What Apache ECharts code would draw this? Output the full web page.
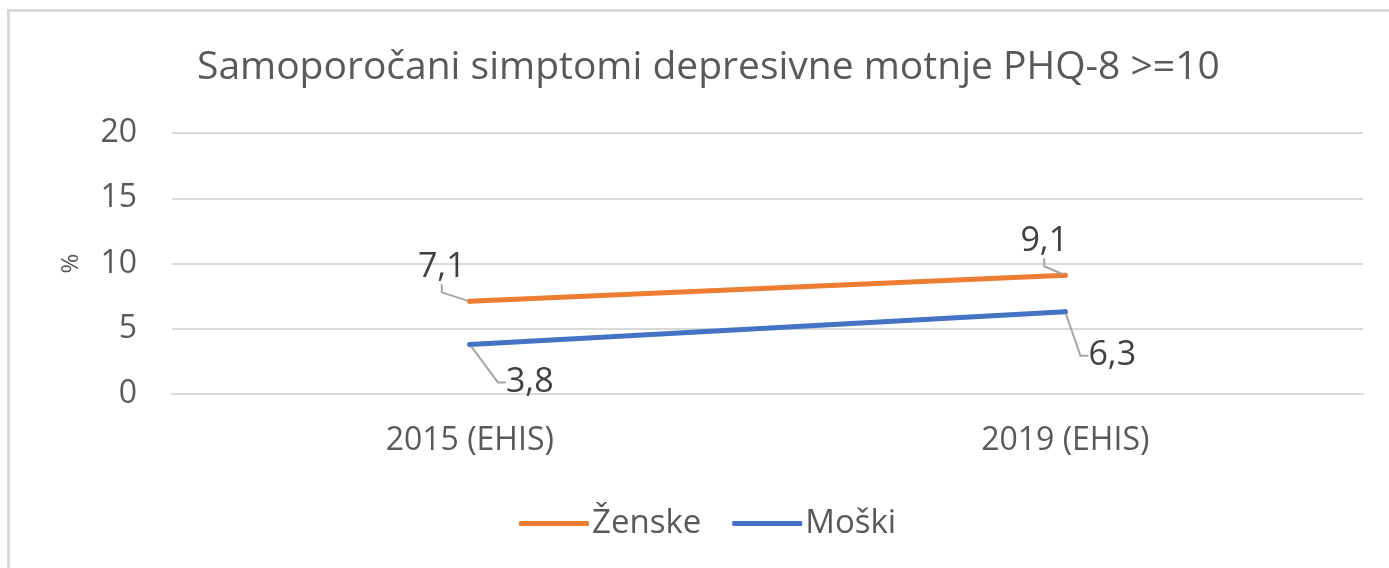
<!DOCTYPE html>
<html>
<head>
<meta charset="UTF-8">
<title>PHQ-8</title>
<script src="https://cdn.jsdelivr.net/npm/echarts@6/dist/echarts.min.js"></script>
<style>
  html, body { margin: 0; padding: 0; background: #fff; }
  #frame { position: absolute; left: 7px; top: 9px; width: 1400px; height: 580px;
           border-top: 3px solid #d9d9d9; border-left: 3px solid #d9d9d9; }
  #main { position: absolute; left: 0; top: 0; width: 1389px; height: 568px; }
</style>
</head>
<body>
<div id="frame"></div>
<div id="main"></div>
<script>
// data
var categories = ['2015 (EHIS)', '2019 (EHIS)'];
var zenske = [7.1, 9.1];
var moski = [3.8, 6.3];
var yTicks = [0, 5, 10, 15, 20];

// label offsets from point (per series, per category)
var labelShift = [
    [[-28, -34], [-21, -34]],
    [[60, 38], [47, 44]]
];

var txt = '#595959';
var font = 'Open Sans';
var chart = echarts.init(document.getElementById('main'));

function makeSeries(name, data, color) {
    return {
        name: name,
        type: 'line',
        data: data,
        symbol: 'circle',
        symbolSize: 5,
        showSymbol: true,
        itemStyle: { color: color },
        lineStyle: { color: color, width: 5, cap: 'round' },
        label: {
            show: true,
            position: 'inside',
            color: '#404040',
            fontSize: 34,
            fontFamily: font,
            formatter: function (p) { return String(p.value).replace('.', ','); }
        },
        labelLine: { show: true, length2: 8, lineStyle: { color: '#a6a6a6', width: 2 } },
        emphasis: { disabled: true },
        animation: false
    };
}

chart.setOption({
    animation: false,
    title: {
        text: 'Samoporočani simptomi depresivne motnje PHQ-8 >=10',
        left: 192,
        top: 43,
        textStyle: { color: txt, fontSize: 39, fontWeight: 'normal', fontFamily: font }
    },
    grid: { left: 172, right: 26, top: 133, bottom: 174 },
    legend: {
        top: 502,
        left: 514,
        itemWidth: 70,
        itemHeight: 5,
        itemGap: 31,
        icon: 'roundRect',
        textStyle: { color: txt, fontSize: 33, fontFamily: font, padding: [0, 0, 0, -2] },
        data: ['Ženske', 'Moški']
    },
    xAxis: {
        type: 'category',
        data: categories,
        boundaryGap: true,
        axisLine: { show: true, lineStyle: { color: '#d9d9d9', width: 2 } },
        axisTick: { show: false },
        axisLabel: { color: txt, fontSize: 32, fontFamily: font, margin: 31 }
    },
    yAxis: {
        type: 'value',
        min: yTicks[0],
        max: yTicks[yTicks.length - 1],
        interval: yTicks[1] - yTicks[0],
        name: '%',
        nameLocation: 'middle',
        nameGap: 89,
        nameRotate: 90,
        nameTextStyle: { color: txt, fontSize: 24, fontFamily: font },
        axisLine: { show: false },
        axisTick: { show: false },
        axisLabel: { color: txt, fontSize: 32, fontFamily: font, margin: 35 },
        splitLine: { lineStyle: { color: '#d9d9d9', width: 2 } }
    },
    labelLayout: function (p) {
        var s = labelShift[p.seriesIndex][p.dataIndex];
        return { dx: s[0], dy: s[1] };
    },
    series: [
        makeSeries('Ženske', zenske, '#ED7D31'),
        makeSeries('Moški', moski, '#4472C4')
    ]
});
</script>
</body>
</html>
